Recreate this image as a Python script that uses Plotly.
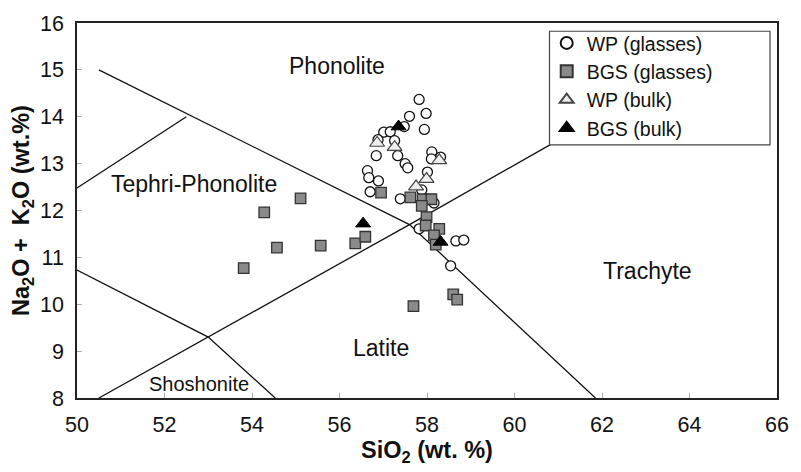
import plotly.graph_objects as go

# ---- data ----
wp_glass_x = [57.82, 57.98, 57.60, 57.94, 57.48, 57.01, 57.16, 57.26, 56.88, 56.84,
              57.33, 57.50, 57.56, 58.11, 58.31, 58.10, 58.01, 56.64, 56.67, 56.89,
              56.70, 57.39, 57.88, 58.16, 57.82, 58.66, 58.84, 58.54]
wp_glass_y = [14.37, 14.07, 14.01, 13.73, 13.79, 13.67, 13.68, 13.49, 13.51, 13.17,
              13.17, 13.00, 12.91, 13.25, 13.14, 13.10, 12.82, 12.85, 12.70, 12.63,
              12.40, 12.25, 12.44, 12.16, 11.61, 11.35, 11.37, 10.82]

bgs_glass_x = [53.81, 54.28, 54.57, 55.11, 55.57, 56.36, 56.59, 56.95, 57.62, 57.90,
               58.10, 57.88, 57.99, 57.97, 58.28, 58.16, 58.20, 58.60, 58.69, 57.69]
bgs_glass_y = [10.77, 11.96, 11.21, 12.26, 11.25, 11.30, 11.44, 12.38, 12.28, 12.24,
               12.24, 12.10, 11.86, 11.68, 11.61, 11.47, 11.27, 10.21, 10.10, 9.96]

wp_bulk_x = [56.86, 57.26, 58.28, 57.99, 57.75]
wp_bulk_y = [13.44, 13.35, 13.07, 12.67, 12.51]

bgs_bulk_x = [57.35, 56.54, 58.31]
bgs_bulk_y = [13.79, 11.72, 11.33]

# TAS field boundaries
boundaries = {
    "phonolite_lower": ([50.5, 57.6, 61.85], [15.0, 11.7, 8.0]),
    "tephriphonolite_upper": ([50.0, 52.5], [12.48, 14.0]),
    "tephriphonolite_lower": ([50.0, 53.0, 54.53], [10.73, 9.3, 8.0]),
    "latite_upper": ([50.5, 57.6, 61.0], [8.0, 11.7, 13.5]),
}

field_names = ["Phonolite", "Tephri-Phonolite", "Trachyte", "Latite", "Shoshonite"]
field_x = [55.95, 52.68, 63.03, 56.95, 52.78]
field_y = [15.08, 12.56, 10.7, 9.07, 8.30]
field_size = [23, 23, 23, 23, 20]

tick_x = [50, 52, 54, 56, 58, 60, 62, 64, 66]
tick_y = [8, 9, 10, 11, 12, 13, 14, 15, 16]

FONT = "Liberation Sans, Arial, sans-serif"

fig = go.Figure()

for name, (bx, by) in boundaries.items():
    fig.add_trace(go.Scatter(x=bx, y=by, mode="lines", showlegend=False,
                             line=dict(color="#111111", width=1.3), hoverinfo="skip"))

fig.add_trace(go.Scatter(x=wp_glass_x, y=wp_glass_y, mode="markers", name="WP (glasses)",
                         legendgroup="a",
                         marker=dict(symbol="circle", size=10, color="white",
                                     line=dict(color="#111111", width=1.3))))
fig.add_trace(go.Scatter(x=bgs_glass_x, y=bgs_glass_y, mode="markers", name="BGS (glasses)",
                         legendgroup="b",
                         marker=dict(symbol="square", size=10.5, color="#8a8a8a",
                                     line=dict(color="#333333", width=1.3))))
fig.add_trace(go.Scatter(x=wp_bulk_x, y=wp_bulk_y, mode="markers", name="WP (bulk)",
                         legendgroup="c",
                         marker=dict(symbol="triangle-up", size=13, color="#eeeeee",
                                     line=dict(color="#444444", width=1.2))))
fig.add_trace(go.Scatter(x=bgs_bulk_x, y=bgs_bulk_y, mode="markers", name="BGS (bulk)",
                         legendgroup="d",
                         marker=dict(symbol="triangle-up", size=13, color="black",
                                     line=dict(color="black", width=1))))

for t, x, y, s in zip(field_names, field_x, field_y, field_size):
    fig.add_annotation(x=x, y=y, text=t, showarrow=False,
                       font=dict(family=FONT, size=s, color="#111111"))

# legend box
fig.add_shape(type="rect", xref="paper", yref="paper",
              x0=0.675, x1=0.990, y0=0.675, y1=0.978,
              fillcolor="white", line=dict(color="#444444", width=1.2), layer="above")

fig.update_layout(
    width=801, height=472,
    margin=dict(l=77, r=19, t=18.5, b=74),
    paper_bgcolor="white", plot_bgcolor="white",
    font=dict(family=FONT, size=20, color="#111111"),
    legend=dict(x=0.671, y=0.998, xanchor="left", yanchor="top",
                bgcolor="rgba(0,0,0,0)", borderwidth=0,
                font=dict(family=FONT, size=19.5, color="#111111"),
                itemsizing="constant", tracegroupgap=0),
    xaxis=dict(range=[50, 66], tickvals=tick_x, ticktext=[str(v) for v in tick_x],
               showgrid=False, zeroline=False, showline=True, mirror=True,
               linecolor="#222222", linewidth=1.5,
               ticks="inside", ticklen=5, tickcolor="#aaaaaa",
               ticklabelstandoff=6,
               tickfont=dict(family=FONT, size=21.5, color="#111111"),
               title=dict(text="<b>SiO<sub>2</sub> (wt. %)</b>",
                          font=dict(family=FONT, size=23.5, color="#111111"), standoff=6)),
    yaxis=dict(range=[8, 16], tickvals=tick_y, ticktext=[str(v) for v in tick_y],
               showgrid=False, zeroline=False, showline=True, mirror=True,
               linecolor="#222222", linewidth=1.5,
               ticks="inside", ticklen=5, tickcolor="#aaaaaa",
               ticklabelstandoff=7,
               tickfont=dict(family=FONT, size=21.5, color="#111111"),
               title=dict(text="<b>Na<sub>2</sub>O +  K<sub>2</sub>O (wt.%)</b>",
                          font=dict(family=FONT, size=23.5, color="#111111"), standoff=4)),
)

fig.write_html("out.html")
